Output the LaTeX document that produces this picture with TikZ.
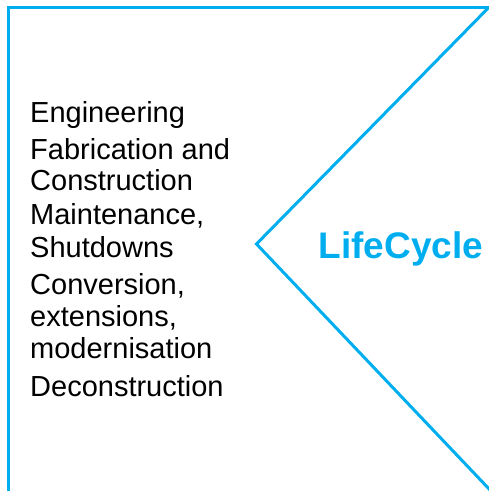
\documentclass[tikz,border=0pt]{standalone}
\usepackage{fontspec}
\setmainfont{Liberation Sans}
\definecolor{lc}{RGB}{0,174,239}
\begin{document}
\begin{tikzpicture}[x=1pt,y=-1pt,
  item/.style={anchor=base west,inner sep=0pt,font=\fontsize{29}{32.5}\selectfont},
  frame/.style={draw=lc,line width=3pt,line join=miter}]
\useasboundingbox (0,0) rectangle (489,491);
\coordinate (bl) at (8.5,492);
\coordinate (tl) at (8.5,7.7);
\coordinate (tr) at (490,7.7);
\coordinate (apex) at (256.5,244);
\coordinate (br) at (491,491);
\draw[frame] (bl) -- (tl) -- (tr);
\draw[frame] (488.5,7.7) -- (apex) -- (br);
\node[item] (eng) at (30,122) {Engineering};
\node[item] (fab1) at (30,159) {Fabrication and};
\node[item] (fab2) at (30,190.5) {Construction};
\node[item] (mai1) at (30,224) {Maintenance,};
\node[item] (mai2) at (30,257) {Shutdowns};
\node[item] (con1) at (30,294) {Conversion,};
\node[item] (con2) at (30,326.5) {extensions,};
\node[item] (con3) at (30,358.5) {modernisation};
\node[item] (dec) at (30,396) {Deconstruction};
\node[anchor=base west,inner sep=0pt,text=lc,font=\fontsize{37}{42}\selectfont\bfseries] (lc) at (318.5,258) {LifeCycle};
\end{tikzpicture}
\end{document}
